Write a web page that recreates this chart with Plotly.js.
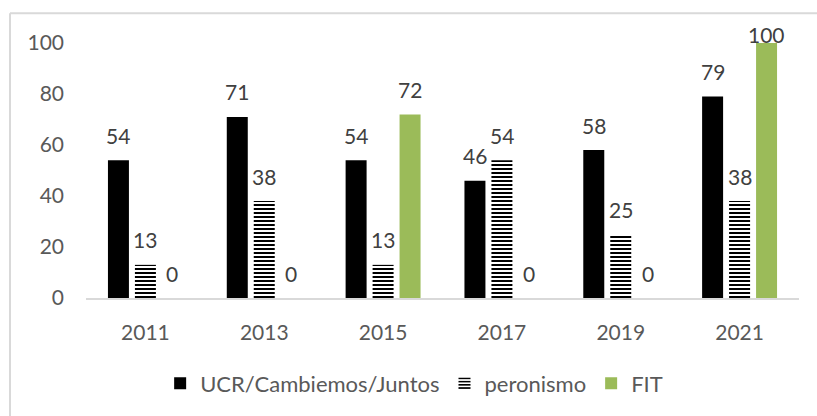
<!DOCTYPE html>
<html>
<head>
<meta charset="utf-8">
<script src="https://cdn.plot.ly/plotly-3.0.1.min.js"></script>
<style>
html,body{margin:0;padding:0;background:#fff;}
#chart{width:817px;height:416px;}
</style>
</head>
<body>
<div id="chart"></div>
<script>
var years = ['2011','2013','2015','2017','2019','2021'];
var ucr = [54, 71, 54, 46, 58, 79];
var peronismo = [13, 38, 13, 54, 25, 38];
var fit = [0, 0, 72, 0, 0, 100];
var seriesNames = ['UCR/Cambiemos/Juntos', 'peronismo', 'FIT'];
var yTicks = [0, 20, 40, 60, 80, 100];

var FONT = 'Lato, "Open Sans", sans-serif';
var labelFont = {family: FONT, size: 21, color: '#404040'};

var traces = [
  {type:'bar', name: seriesNames[0], x: years, y: ucr,
   marker:{color:'#000000'}},
  {type:'bar', name: seriesNames[1], x: years, y: peronismo,
   marker:{color:'#ffffff', pattern:{shape:'-', fgcolor:'#000000', bgcolor:'#ffffff', size:4, solidity:0.5}}},
  {type:'bar', name: seriesNames[2], x: years, y: fit,
   marker:{color:'#9bbb59'}}
];
traces.forEach(function(t){
  t.hoverinfo = 'none';
  t.marker.line = {width:0};
});

// value labels placed above each bar (Excel-style data labels)
var PLOT_H = 257, Y_MAX = 100;
var pxPerUnit = PLOT_H / Y_MAX;
var LABEL_GAP = 25;          // px between bar top and label centre
var LABEL_CEIL = 103.3;      // labels cannot rise above this (chart area top)
var SLOT = 27;               // px pitch between bars of a group
var annotations = [];
[ucr, peronismo, fit].forEach(function(vals, si){
  vals.forEach(function(v, i){
    annotations.push({
      x: i, y: v, xref:'x', yref:'y',   // category index of years[i]
      text: String(v), showarrow:false,
      xanchor:'center', yanchor:'middle',
      xshift: (si - 1) * SLOT,
      yshift: Math.min(LABEL_GAP, (LABEL_CEIL - v) * pxPerUnit),
      font: labelFont
    });
  });
});

var layout = {
  width: 817, height: 416,
  margin: {l:86, r:18, t:43, b:116},
  paper_bgcolor:'#ffffff', plot_bgcolor:'#ffffff',
  barmode:'group', bargap:0.319, bargroupgap:0.222,
  font:{family: FONT, color:'#595959', size:21},
  xaxis:{type:'category', categoryarray: years, categoryorder:'array',
    showline:true, linecolor:'#d9d9d9', linewidth:1.5,
    ticks:'', showgrid:false, zeroline:false, ticklabelstandoff:15,
    tickfont:{family:FONT, size:21, color:'#595959'}},
  yaxis:{range:[0,100], tickvals:yTicks, showgrid:false, zeroline:false, showline:false,
    ticks:'', ticklabelstandoff:21, tickfont:{family:FONT, size:21, color:'#595959'}},
  showlegend:true,
  legend:{orientation:'h', x:0.104, xanchor:'left', y:-0.335, yanchor:'middle',
    font:{family:FONT, size:22, color:'#595959'}, traceorder:'normal', itemwidth:30},
  annotations: annotations,
  shapes:[
    {type:'line', xref:'paper', yref:'paper', x0:-0.1066, x1:-0.1066, y0:-1, y1:1.117,
     line:{color:'#d9d9d9', width:2}},
    {type:'line', xref:'paper', yref:'paper', x0:-0.1066, x1:2, y0:1.117, y1:1.117,
     line:{color:'#d9d9d9', width:2}}
  ]
};

Plotly.newPlot('chart', traces, layout, {displayModeBar:false, staticPlot:true});
</script>
</body>
</html>
